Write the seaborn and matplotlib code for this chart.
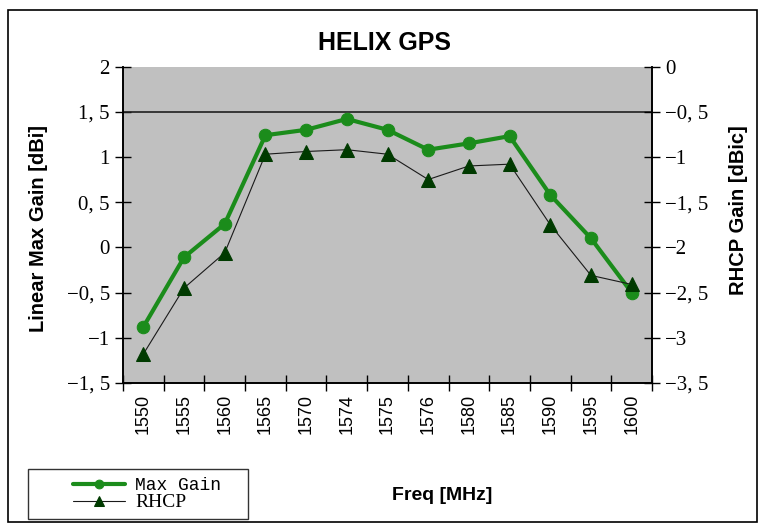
import numpy as np
import pandas as pd
import matplotlib
matplotlib.use("Agg")
import matplotlib.pyplot as plt
import matplotlib.ticker as mticker
from matplotlib.patches import Rectangle
from matplotlib.legend_handler import HandlerLine2D
import seaborn as sns

# valores
freqs = ["1550", "1555", "1560", "1565", "1570", "1574", "1575",
         "1576", "1580", "1585", "1590", "1595", "1600"]
max_gain = [-0.88, -0.11, 0.26, 1.24, 1.30, 1.42, 1.30,
            1.08, 1.15, 1.23, 0.58, 0.10, -0.50]
rhcp = [-3.18, -2.45, -2.06, -0.97, -0.94, -0.92, -0.97,
        -1.25, -1.10, -1.08, -1.75, -2.31, -2.41]

left_ticks = [-1.5, -1, -0.5, 0, 0.5, 1, 1.5, 2]
right_ticks = [-3.5, -3, -2.5, -2, -1.5, -1, -0.5, 0]

df = pd.DataFrame({"Freq": freqs, "Max Gain": max_gain, "RHCP": rhcp})

sns.set_style("ticks")
plt.rcParams["font.family"] = ["Liberation Sans", "DejaVu Sans"]
plt.rcParams["axes.unicode_minus"] = True
for k in ("text.color", "axes.labelcolor", "xtick.color", "ytick.color"):
    plt.rcParams[k] = "black"

GREEN = "#1B8C1B"
DARK = "#003A00"


def coma(v, pos=None):
    s = ("%g" % abs(v)).replace(".", ", ")
    return ("\u2212" + s) if v < 0 else s


class HandlerDerecha(HandlerLine2D):
    # deja un hueco a la izquierda del simbolo, como en Excel
    def create_artists(self, legend, orig_handle, xdescent, ydescent,
                       width, height, fontsize, trans):
        shift = width * 0.42
        return super().create_artists(legend, orig_handle, xdescent - shift,
                                      ydescent, width - shift, height,
                                      fontsize, trans)


fig = plt.figure(figsize=(7.65, 5.27), dpi=100)
ax = fig.add_axes([123 / 765, 1 - 383 / 527, 529 / 765, 316.5 / 527])
ax.set_facecolor("#C0C0C0")

sns.lineplot(data=df, x="Freq", y="Max Gain", sort=False, ax=ax,
             color=GREEN, lw=3, marker="o", markersize=9,
             markeredgecolor=GREEN, label="Max Gain", legend=False)
ax.axhline(1.5, color="#202020", lw=1.2, zorder=1)

ax2 = ax.twinx()
sns.lineplot(data=df, x="Freq", y="RHCP", sort=False, ax=ax2,
             color="#1A1A1A", lw=0.8, marker="^", markersize=10,
             markerfacecolor=DARK, markeredgecolor=DARK, label="RHCP",
             legend=False)

ax.set_xlim(-0.5, len(freqs) - 0.5)
ax.set_ylim(-1.5, 2)
ax2.set_ylim(-3.5, 0)
ax.set_yticks(left_ticks)
ax2.set_yticks(right_ticks)
ax.yaxis.set_major_formatter(mticker.FuncFormatter(coma))
ax2.yaxis.set_major_formatter(mticker.FuncFormatter(coma))

for a in (ax, ax2):
    a.spines["top"].set_visible(False)
    for s in ("left", "right", "bottom"):
        a.spines[s].set_color("black")
        a.spines[s].set_linewidth(1.2)
    a.set_xlabel("")
    a.set_ylabel("")

serif = {"family": ["Liberation Serif", "DejaVu Serif"], "size": 15}
ax.tick_params(axis="y", direction="inout", length=11, width=1, pad=4)
ax2.tick_params(axis="y", direction="inout", length=11, width=1, pad=4)
for t in ax.get_yticklabels() + ax2.get_yticklabels():
    t.set_fontproperties(serif)

# categorias centradas, marcas en los limites
ax.set_xticks(range(len(freqs)))
ax.set_xticklabels(freqs, rotation=90, fontsize=13)
ax.tick_params(axis="x", which="major", length=0, pad=8)
ax.set_xticks(np.arange(-0.5, len(freqs), 1), minor=True)
ax.tick_params(axis="x", which="minor", direction="inout", length=11, width=1)

fig.text(384 / 765, 1 - 43 / 527, "HELIX GPS", ha="center", va="center",
         fontsize=18, fontweight="bold")
fig.text(39 / 765, 1 - 228 / 527, "Linear Max Gain [dBi]", rotation=90,
         ha="center", va="center", fontsize=14.5, fontweight="bold")
fig.text(738 / 765, 1 - 210 / 527, "RHCP Gain [dBic]", rotation=90,
         ha="center", va="center", fontsize=14.5, fontweight="bold")
fig.text(442 / 765, 1 - 495 / 527, "Freq [MHz]", ha="center", va="center",
         fontsize=14, fontweight="bold")

h1, l1 = ax.get_legend_handles_labels()
h2, l2 = ax2.get_legend_handles_labels()
leg = fig.legend(h1 + h2, l1 + l2, loc="lower left",
                 bbox_to_anchor=(28 / 765, 8 / 527, 220 / 765, 51 / 527),
                 mode="expand", frameon=True, fancybox=False, shadow=False,
                 markerscale=0.7, handlelength=4.9, handletextpad=0.6,
                 borderpad=0.45, labelspacing=0.0, borderaxespad=0,
                 fontsize=13,
                 handler_map={h: HandlerDerecha() for h in h1 + h2})
leg.get_frame().set_edgecolor("black")
leg.get_frame().set_linewidth(1)
texts = leg.get_texts()
texts[0].set_fontproperties({"family": ["Liberation Mono", "DejaVu Sans Mono"], "size": 13})
texts[1].set_fontproperties({"family": ["Liberation Serif", "DejaVu Serif"], "size": 14})

fig.add_artist(Rectangle((8 / 765, 1 - 522 / 527), 749 / 765, 512 / 527,
                         transform=fig.transFigure, fill=False,
                         edgecolor="black", lw=1.2))

fig.savefig("out.png", dpi=100, facecolor="white")
